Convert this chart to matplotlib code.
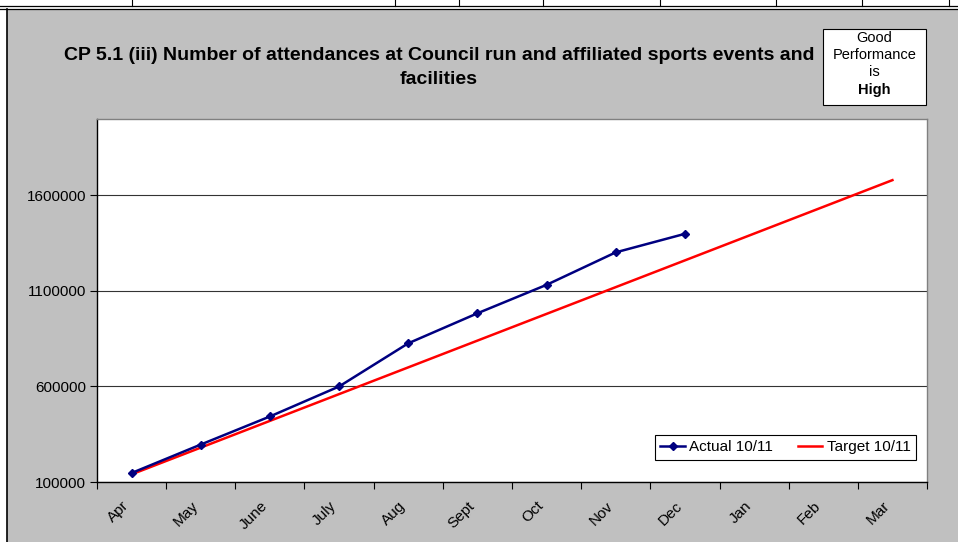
import numpy as np
import matplotlib
matplotlib.use("Agg")
import matplotlib.pyplot as plt
from matplotlib.lines import Line2D
from matplotlib.patches import Rectangle

plt.rcParams['font.family'] = ['Liberation Sans', 'DejaVu Sans']

# datos
months = ['Apr', 'May', 'June', 'July', 'Aug', 'Sept', 'Oct', 'Nov', 'Dec',
          'Jan', 'Feb', 'Mar']
actual = [147000, 296000, 443000, 600000, 826000, 983000, 1132000, 1302000,
          1399000]
target = [140000, 280000, 420000, 560000, 700000, 840000, 980000, 1120000,
          1260000, 1400000, 1540000, 1680000]
yticks = [100000, 600000, 1100000, 1600000]

W, H = 958, 542
grey = '#c0c0c0'

fig = plt.figure(figsize=(W / 100, H / 100), dpi=100)
fig.patch.set_facecolor('white')

def px(x, y):
    return x / W, 1 - y / H

# fondo gris del área del gráfico
fig.patches.append(Rectangle(px(7, H), (W - 7) / W, (H - 9) / H,
                             transform=fig.transFigure, facecolor=grey,
                             edgecolor='none', zorder=0))
# bordes (franja de tabla arriba)
for y in (6, 8.5):
    fig.add_artist(Line2D([0, 1], [1 - y / H] * 2, transform=fig.transFigure,
                          color='black', lw=0.9))
fig.add_artist(Line2D([7 / W] * 2, [0, 1 - 8.5 / H], transform=fig.transFigure,
                      color='black', lw=1.2))
for x in (132, 395, 459, 543, 660, 776, 862, 949):
    fig.add_artist(Line2D([x / W] * 2, [1, 1 - 6 / H], transform=fig.transFigure,
                          color='black', lw=0.8))

ax = fig.add_axes([97 / W, (H - 482) / H, 830 / W, 363 / H])
ax.set_zorder(3)
ax.set_facecolor('white')

x = np.arange(len(months))
ax.plot(x[:len(actual)], actual, color='#000080', lw=1.8, marker='D',
        markersize=4.5, label='Actual 10/11', zorder=3)
ax.plot(x, target, color='#ff0000', lw=1.8, label='Target 10/11', zorder=2)

ax.set_xlim(-0.5, len(months) - 0.5)
ax.set_ylim(100000, 2000000)

ax.set_yticks(yticks)
ax.set_yticklabels([str(v) for v in yticks], fontsize=11)
ax.tick_params(axis='y', direction='out', length=5, width=0.8, pad=3)
ax.yaxis.grid(True, color='#333333', lw=0.8)
ax.set_axisbelow(True)

ax.set_xticks(np.arange(len(months) + 1) - 0.5)
ax.set_xticklabels([])
ax.tick_params(axis='x', which='major', direction='out', length=5, width=0.8)
ax.set_xticks(x, minor=True)
ax.set_xticklabels(months, minor=True, rotation=45, ha='right', fontsize=11)
ax.tick_params(axis='x', which='minor', length=0, pad=12)

for s in ('left', 'bottom'):
    ax.spines[s].set_color('black')
    ax.spines[s].set_linewidth(1.0)
for s in ('top', 'right'):
    ax.spines[s].set_color('#808080')
    ax.spines[s].set_linewidth(1.0)

leg = ax.legend(loc='lower right', ncol=2, fontsize=11, frameon=True,
                fancybox=False, edgecolor='black', framealpha=1,
                bbox_to_anchor=(0.996, 0.04), handlelength=1.6,
                handletextpad=0.3, columnspacing=1.6, borderpad=0.35)
leg.get_frame().set_linewidth(0.8)

fig.text(439 / W, 1 - 56 / H,
         'CP 5.1 (iii) Number of attendances at Council run and affiliated sports events and',
         ha='center', va='center', fontsize=14, fontweight='bold')
fig.text(439 / W, 1 - 80 / H, 'facilities', ha='center', va='center',
         fontsize=14, fontweight='bold')

# recuadro "Good Performance is High"
fig.patches.append(Rectangle(px(823, 105), 103 / W, 76 / H,
                             transform=fig.transFigure, facecolor='white',
                             edgecolor='black', lw=0.8, zorder=1))
cx = 874.5 / W
fig.text(cx, 1 - 38 / H, 'Good', ha='center', va='center', fontsize=10.5)
fig.text(cx, 1 - 55 / H, 'Performance', ha='center', va='center', fontsize=10.5)
fig.text(cx, 1 - 72 / H, 'is', ha='center', va='center', fontsize=10.5)
fig.text(cx, 1 - 90 / H, 'High', ha='center', va='center', fontsize=10.5,
         fontweight='bold')

fig.savefig('out.png', dpi=100, facecolor=fig.get_facecolor())
